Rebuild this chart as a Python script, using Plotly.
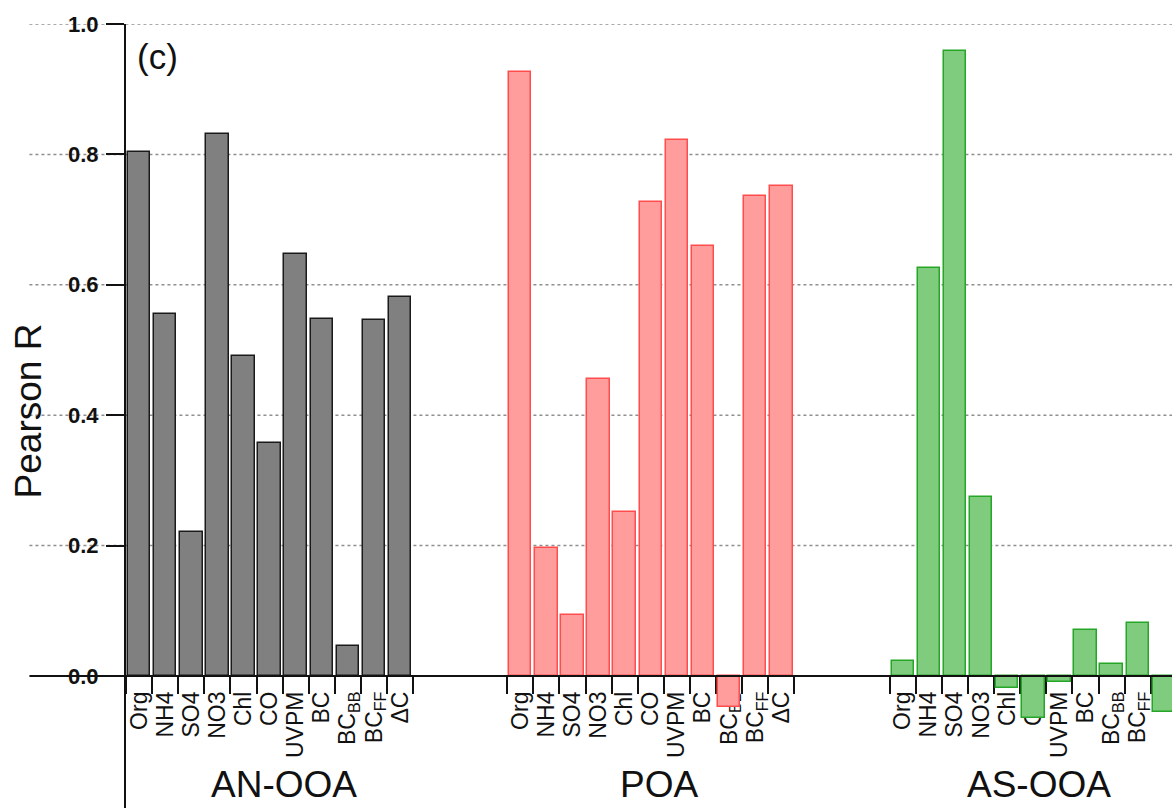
import plotly.graph_objects as go

# Correlation of each PMF factor with the tracer species
categories = ["Org", "NH4", "SO4", "NO3", "Chl", "CO", "UVPM", "BC",
              "BC<sub>BB</sub>", "BC<sub>FF</sub>", "ΔC"]
factors = ["AN-OOA", "POA", "AS-OOA"]
an_ooa = [0.804, 0.555, 0.221, 0.831, 0.491, 0.358, 0.647, 0.548, 0.046, 0.546, 0.581]
poa = [0.926, 0.196, 0.093, 0.456, 0.251, 0.727, 0.822, 0.660, -0.048, 0.736, 0.752]
as_ooa = [0.023, 0.626, 0.959, 0.275, -0.019, -0.064, -0.010, 0.070, 0.018, 0.082, -0.055]
y_ticks = [0.0, 0.2, 0.4, 0.6, 0.8, 1.0]

# layout of the factor blocks along x (in bar-slot units)
group_start = [0.0, 14.6, 29.25]
label_shift = [0.55, 0.3, 0.2]
bar_width = 0.86
fills = ["#808080", "#ff9c9c", "#7fcc7f"]
edges = ["#1a1a1a", "#ff4d4d", "#26a626"]

W, H = 1172, 808
margin = dict(l=125.6, r=0, t=24, b=0)
slot_px = 26.12
x_max = (W - margin["l"] - margin["r"]) / slot_px
y_min, y_max = -0.2025, 1.0
zero_pos = (0 - y_min) / (y_max - y_min)
left_ext = -(125.6 - 29) / (W - margin["l"] - margin["r"])

FONT = "Liberation Sans, Arial, Helvetica, sans-serif"

fig = go.Figure()
centers, labels, bounds = [], [], []
for series, start, fc, ec, name in zip([an_ooa, poa, as_ooa], group_start, fills, edges, factors):
    xs = [start + i + 0.5 for i in range(len(categories))]
    fig.add_trace(go.Bar(
        x=xs, y=series, width=bar_width, name=name, showlegend=False,
        marker=dict(color=fc, line=dict(color=ec, width=1.5)),
    ))
    centers += xs
    labels += categories
    bounds += [start + i for i in range(len(categories) + 1)]

shapes = []
for v in y_ticks[1:]:
    shapes.append(dict(type="line", xref="paper", yref="y", x0=left_ext, x1=1, y0=v, y1=v,
                       line=dict(color="#8f8f8f", width=1.5, dash="dot"), layer="below"))
shapes.append(dict(type="line", xref="paper", yref="y", x0=left_ext, x1=1, y0=0, y1=0,
                   line=dict(color="#111111", width=2), layer="above"))

annotations = []
for start, shift, name in zip(group_start, label_shift, factors):
    annotations.append(dict(x=start + len(categories) / 2 + shift, y=-0.167, xref="x", yref="y",
                            text=name, showarrow=False, xanchor="center", yanchor="middle",
                            font=dict(family=FONT, size=37, color="#111111")))
annotations.append(dict(x=(28 - 125.6) / (W - 125.6), y=(H - 411) / (H - 24), xref="paper", yref="paper",
                        text="Pearson R", textangle=-90, showarrow=False,
                        xanchor="center", yanchor="middle",
                        font=dict(family=FONT, size=37, color="#111111")))
annotations.append(dict(x=(157 - 125.6) / (W - 125.6), y=(H - 57) / (H - 24), xref="paper", yref="paper",
                        text="(c)", showarrow=False, xanchor="center", yanchor="middle",
                        font=dict(family=FONT, size=35, color="#111111")))

fig.update_layout(
    width=W, height=H, margin=margin, autosize=False,
    paper_bgcolor="white", plot_bgcolor="white",
    bargap=0, barmode="overlay",
    font=dict(family=FONT, color="#111111"),
    xaxis=dict(range=[0, x_max], anchor="free", position=zero_pos,
               showline=False, showgrid=False, zeroline=False,
               tickmode="array", tickvals=centers, ticktext=labels,
               ticks="", tickangle=-90, layer="below traces", ticklabelstandoff=10,
               tickfont=dict(family=FONT, size=23, color="#111111"),
               minor=dict(tickmode="array", tickvals=bounds, ticks="outside",
                          ticklen=17, tickwidth=2, tickcolor="#111111", showgrid=False)),
    yaxis=dict(range=[y_min, y_max], showline=True, linecolor="#111111", linewidth=2,
               ticks="outside", ticklen=18, tickwidth=2, tickcolor="#111111",
               tickmode="array", tickvals=y_ticks, ticktext=[f"{v:.1f}" for v in y_ticks],
               ticklabelstandoff=3,
               tickfont=dict(family=FONT, size=22, color="#111111", weight="bold"),
               showgrid=False, zeroline=False),
    shapes=shapes, annotations=annotations,
)

fig.write_html("out.html")
